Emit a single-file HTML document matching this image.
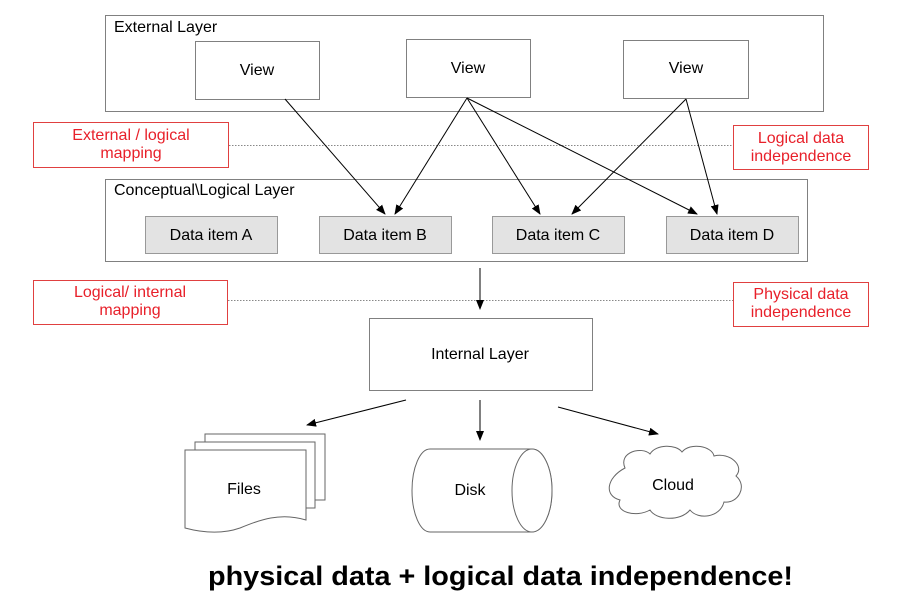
<!DOCTYPE html>
<html><head><style>body{margin:0;background:#fff}svg{display:block}</style></head><body>
<svg width="918" height="603" viewBox="0 0 918 603" xmlns="http://www.w3.org/2000/svg" font-family="'Liberation Sans', sans-serif">
<defs><marker id="a" markerWidth="10" markerHeight="8" refX="9" refY="4" orient="auto" markerUnits="userSpaceOnUse"><path d="M0,0 L10,4 L0,8 Z" fill="#000"/></marker></defs>
<g fill="none" stroke="#808080" stroke-width="1">
<rect x="105.5" y="15.5" width="718" height="96"/>
<rect x="195.5" y="41.5" width="124" height="58"/>
<rect x="406.5" y="39.5" width="124" height="58"/>
<rect x="623.5" y="40.5" width="125" height="58"/>
<rect x="105.5" y="179.5" width="702" height="82"/>
<rect x="369.5" y="318.5" width="223" height="72"/>
</g>
<g fill="#e3e3e3" stroke="#999">
<rect x="145.5" y="216.5" width="132" height="37"/>
<rect x="319.5" y="216.5" width="132" height="37"/>
<rect x="492.5" y="216.5" width="132" height="37"/>
<rect x="666.5" y="216.5" width="132" height="37"/>
</g>
<g fill="#fff" stroke="#e04040">
<rect x="33.5" y="122.5" width="195" height="45"/>
<rect x="733.5" y="125.5" width="135" height="44"/>
<rect x="33.5" y="280.5" width="194" height="44"/>
<rect x="733.5" y="282.5" width="135" height="44"/>
</g>
<g stroke="#888" stroke-dasharray="1.5,1.5">
<line x1="229" y1="145.5" x2="733" y2="145.5"/>
<line x1="228" y1="300.5" x2="733" y2="300.5"/>
</g>
<g stroke="#000" stroke-width="1" marker-end="url(#a)">
<line x1="285" y1="99" x2="385" y2="214"/>
<line x1="467" y1="98" x2="395" y2="214"/>
<line x1="467" y1="98" x2="540" y2="214"/>
<line x1="467" y1="98" x2="697" y2="214"/>
<line x1="686" y1="99" x2="572" y2="214"/>
<line x1="686" y1="99" x2="717" y2="214"/>
<line x1="480" y1="268" x2="480" y2="309"/>
<line x1="406" y1="400" x2="307" y2="425"/>
<line x1="480" y1="400" x2="480" y2="440"/>
<line x1="558" y1="407" x2="658" y2="434"/>
</g>
<g fill="#fff" stroke="#666">
<rect x="205" y="434" width="120" height="66"/>
<rect x="195" y="442" width="120" height="66"/>
<path d="M185,450 H306 V520 C280,512 260,520 240,528 C220,535 200,532 185,528 Z"/>
<path d="M430,449 H532 A20,41.5 0 0 1 532,532 H430 A18,41.5 0 0 1 430,449 Z"/>
<ellipse cx="532" cy="490.5" rx="20" ry="41.5"/>
<path d="M625,468 C618,452 642,446 650,454 C656,444 676,444 682,452 C690,442 712,446 714,456 C730,452 745,466 736,476 C748,486 738,504 724,502 C720,518 698,520 690,510 C680,522 656,520 650,510 C636,518 614,512 620,500 C604,496 606,478 625,468 Z"/>
</g>
<g font-size="16" fill="#000">
<text x="114" y="32">External  Layer</text>
<text x="257" y="75" text-anchor="middle">View</text>
<text x="468" y="73" text-anchor="middle">View</text>
<text x="686" y="73" text-anchor="middle">View</text>
<text x="114" y="195">Conceptual\Logical Layer</text>
<text x="211" y="240" text-anchor="middle">Data item A</text>
<text x="385" y="240" text-anchor="middle">Data item  B</text>
<text x="558" y="240" text-anchor="middle">Data item C</text>
<text x="732" y="240" text-anchor="middle">Data item D</text>
<text x="480" y="359" text-anchor="middle">Internal Layer</text>
<text x="244" y="494" text-anchor="middle">Files</text>
<text x="470" y="495" text-anchor="middle">Disk</text>
<text x="673" y="490" text-anchor="middle">Cloud</text>
</g>
<g font-size="16" fill="#e8202a" text-anchor="middle">
<text x="131" y="140">External / logical</text>
<text x="131" y="158">mapping</text>
<text x="801" y="143">Logical data</text>
<text x="801" y="161">independence</text>
<text x="130" y="297">Logical/ internal</text>
<text x="130" y="315">mapping</text>
<text x="801" y="299">Physical data</text>
<text x="801" y="317">independence</text>
</g>
<text x="208" y="585" font-size="27" font-weight="bold" textLength="585" lengthAdjust="spacingAndGlyphs">physical data + logical data independence!</text>
</svg>
</body></html>
